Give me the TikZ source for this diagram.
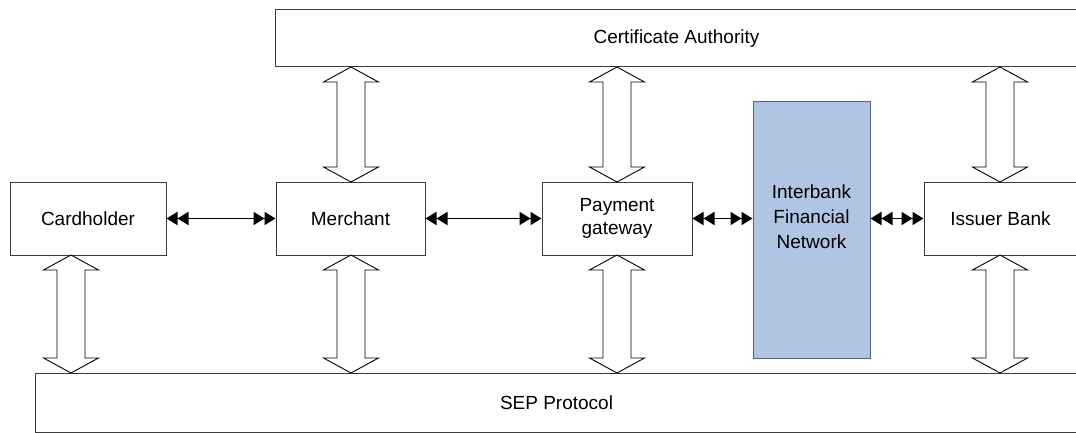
\documentclass[tikz,border=0pt]{standalone}
\usepackage{fontspec}
\setmainfont{Liberation Sans}
\usetikzlibrary{arrows.meta}
\definecolor{boxline}{HTML}{3C3C3C}
\definecolor{netfill}{HTML}{B0C4E4}
\definecolor{netline}{HTML}{5A6472}
\tikzset{
  box/.style={draw=boxline,line width=1pt,fill=white,inner sep=0pt,
    align=center,font=\fontsize{19}{23.5}\selectfont},
  txt/.style={inner sep=0pt,align=center,font=\fontsize{19}{25}\selectfont},
  link/.style={line width=1.8pt,
    {Triangle[length=11pt,width=13pt]Triangle[length=11pt,width=13pt]}-{Triangle[length=11pt,width=13pt]Triangle[length=11pt,width=13pt]}},
  blockarrow/.style={draw=black,line width=0.9pt,fill=white,line join=miter}
}
% vertical double block arrow: #1 = x centre, #2 = top y, #3 = bottom y
\newcommand{\vblock}[3]{%
  \draw[blockarrow] (#1,#2) -- (#1+27.5,#2+15) -- (#1+14,#2+15) -- (#1+14,#3-15)
    -- (#1+27.5,#3-15) -- (#1,#3) -- (#1-27.5,#3-15) -- (#1-14,#3-15)
    -- (#1-14,#2+15) -- (#1-27.5,#2+15) -- cycle;}
\begin{document}
\begin{tikzpicture}[x=1pt,y=-1pt]
\useasboundingbox (0,0) rectangle (1076,433);
\begin{scope}
\clip (0,0) rectangle (1076,433);
\node[box,minimum width=803pt,minimum height=57pt] (ca) at (676.5,38.5) {Certificate Authority};
\node[box,minimum width=1043pt,minimum height=59pt] (sep) at (556.5,402.5) {SEP Protocol};
\node[box,minimum width=156pt,minimum height=73pt] (card) at (88,218.5) {Cardholder};
\node[box,minimum width=149pt,minimum height=73pt] (merch) at (350.5,218.5) {Merchant};
\node[box,minimum width=150pt,minimum height=73pt] (pay) at (617,218.5) {Payment\\gateway};
\node[box,minimum width=153pt,minimum height=73pt] (iss) at (1000.5,218.5) {Issuer Bank};
\node[box,draw=netline,fill=netfill,minimum width=117pt,minimum height=256pt] (net) at (811.5,230) {};
\node[txt] (nettext) at (811.5,217) {Interbank\\Financial\\Network};
\draw[link] (card.east) -- (merch.west);
\draw[link] (merch.east) -- (pay.west);
\draw[link] (pay.east) -- (pay.east -| net.west);
\draw[link] (iss.west -| net.east) -- (iss.west);
\vblock{71}{255}{373}
\vblock{351}{67}{182}
\vblock{351}{255}{373}
\vblock{617}{67}{182}
\vblock{617}{255}{373}
\vblock{1000}{67}{182}
\vblock{1000}{255}{373}
\end{scope}
\end{tikzpicture}
\end{document}
